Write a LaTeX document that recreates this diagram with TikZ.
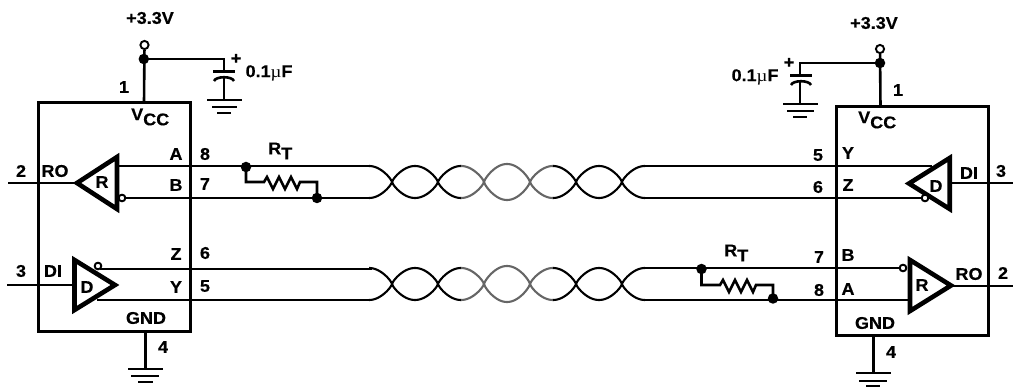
\documentclass[tikz,border=0pt]{standalone}
\usepackage{fontspec}
\setmainfont{Liberation Sans}[BoldFeatures={FakeStretch=1.06,FakeBold=0.3}]
\newfontfamily\musym{Liberation Serif}[FakeStretch=1.1]
\newcommand{\subdown}[1]{\raisebox{-0.3em}{#1}}
\newcommand{\strandy}[3]{#1-#2*#3*cos((\x-369)/46*180)*pow(abs(cos((\x-369)/46*180))+0.001,-0.25)}
\newcommand{\twistpair}[2]{%
  % #1 = mid y, #2 = amplitude sign of the strand
  \draw[twist] plot[domain=369:461,samples=70] (\x,{\strandy{#1}{#2}{16}});
  \draw[twistgrey] plot[domain=461:484,samples=24] (\x,{\strandy{#1}{#2}{16}});
  \draw[twistgrey] plot[domain=484:530,samples=45] (\x,{\strandy{#1}{#2}{18}});
  \draw[twistgrey] plot[domain=530:553,samples=24] (\x,{\strandy{#1}{#2}{16}});
  \draw[twist] plot[domain=553:645,samples=70] (\x,{\strandy{#1}{#2}{16}});
}
\tikzset{
  wire/.style={line width=2.6pt},
  boxline/.style={line width=3pt},
  twist/.style={line width=2.1pt,black},
  twistgrey/.style={line width=2.1pt,black!60},
  lbl/.style={inner sep=0pt,font=\fontsize{17}{17}\bfseries\selectfont,text=black},
  dot/.style={circle,fill=black,inner sep=0pt,minimum size=10.5pt},
  port/.style={circle,draw,line width=1.8pt,fill=white,inner sep=0pt,minimum size=6.5pt},
  vport/.style={circle,draw,line width=1.9pt,fill=white,inner sep=0pt,minimum size=8.2pt},
  tri/.style={line width=4.6pt,miter limit=10},
  pt/.style={inner sep=0pt,minimum size=0pt},
}
\begin{document}
\begin{tikzpicture}[x=1pt,y=-1pt]
\useasboundingbox (0,0) rectangle (1013,387);
% ---------- left transceiver
\node[draw,boxline,pt,minimum width=152pt,minimum height=229pt] (boxL) at (114.5,217.5) {};
\node[vport] (vccL) at (144.5,45) {};
\node[dot] (jL) at (143.8,59) {};
\coordinate (vccpinL) at (144,103);
\draw[wire] (vccL) -- (vccpinL);
\coordinate (capLa) at (224,71);
\coordinate (capLb) at (224,78);
\coordinate (gndcapL) at (224,100);
\draw[wire] (jL.center) -| (capLa);
\draw[wire] (213,71.5) -- (235,71.5);
\draw[wire] (214,81) .. controls (216,76) and (232,76) .. (234,81);
\draw[wire] (capLb) -- (gndcapL);
\draw[wire] (207,100) -- (242,100) (212,107) -- (237,107) (217,113) -- (231,113);
% wires left
\coordinate (wAL) at (372,166);
\coordinate (wBL) at (372,198);
\coordinate (wZL) at (372,269);
\coordinate (wYL) at (372,300);
\coordinate (wROL) at (8,183);
\coordinate (wDIL) at (7,285);
\coordinate (recAL) at (115,166);
\coordinate (drvYL) at (97,300);
\node[port] (bubRL) at (122,198) {};
\node[port] (bubDL) at (98,266) {};
\coordinate (wZLs) at (100,269);
\draw[wire] (recAL) -- (wAL);
\draw[wire] (bubRL) -- (wBL);
\draw[wire] (wZLs) -- (wZL);
\draw[wire] (drvYL) -- (wYL);
\draw[wire] (wROL) -- (76,183);
\draw[wire] (wDIL) -- (73,285);
\draw[tri] (117,157) -- (77,183) -- (117,209) -- cycle;
\draw[tri] (74.5,260) -- (115,285) -- (74.5,310) -- cycle;
\node[port] at (122,198) {};
\node[port] at (98,266) {};
% resistor left
\node[dot] (dRL1) at (246,167) {};
\node[dot] (dRL2) at (317,198) {};
\draw[wire,line join=miter] (dRL1.center) -- (246,182) -- (264,182) -- (267,177) -- (273,189) -- (279,177) -- (285,189) -- (291,177) -- (297,189) -- (300,182) -- (317,182) -- (dRL2.center);
% ground left
\coordinate (gndL) at (145.5,369);
\draw[wire] (145.5,332) -- (gndL);
\draw[wire] (128,369) -- (163,369) (131,376) -- (159,376) (138,382) -- (153,382);
% labels left
\node[lbl] (t1) at (150,18) {+3.3V};
\node[lbl] (t2) at (124,87) {1};
\node[lbl] (t3) at (236,59) {+};
\node[lbl] (t4) at (269,73) {0.1{\musym\mdseries µ}F};
\node[lbl,anchor=west] (t5) at (131,117) {V\subdown{CC}};
\node[lbl] (t6) at (176,154) {A};
\node[lbl] (t7) at (205,154) {8};
\node[lbl] (t8) at (176,185) {B};
\node[lbl] (t9) at (205,184) {7};
\node[lbl,anchor=west] (t10) at (268,151) {R\subdown{T}};
\node[lbl] (t11) at (21,171) {2};
\node[lbl] (t12) at (55,171) {RO};
\node[lbl] (t13) at (102,182) {R};
\node[lbl] (t14) at (21,271) {3};
\node[lbl] (t15) at (53,271) {DI};
\node[lbl] (t16) at (87,287) {D};
\node[lbl] (t17) at (176,254) {Z};
\node[lbl] (t18) at (205,253) {6};
\node[lbl] (t19) at (176,287) {Y};
\node[lbl] (t20) at (205,286) {5};
\node[lbl] (t21) at (146,318) {GND};
\node[lbl] (t22) at (163,347) {4};
% ---------- twisted pairs
\twistpair{182}{1}
\twistpair{182}{-1}
\twistpair{284}{1}
\twistpair{284}{-1}
% ---------- right transceiver
\node[draw,boxline,pt,minimum width=152pt,minimum height=229pt] (boxR) at (912,221.5) {};
\node[vport] (vccR) at (880,49) {};
\node[dot] (jR) at (880,63) {};
\coordinate (vccpinR) at (880.5,107);
\draw[wire] (vccR) -- (vccpinR);
\coordinate (capRa) at (800,75);
\coordinate (capRb) at (800,82);
\coordinate (gndcapR) at (800,104);
\draw[wire] (jR.center) -| (capRa);
\draw[wire] (790,75.5) -- (812,75.5);
\draw[wire] (791,85) .. controls (793,80) and (809,80) .. (811,85);
\draw[wire] (capRb) -- (gndcapR);
\draw[wire] (783,104) -- (818,104) (787,111) -- (814,111) (793,117) -- (807,117);
% wires right
\coordinate (wYR) at (643,166);
\coordinate (wZR) at (643,198);
\coordinate (wBR) at (643,268);
\coordinate (wAR) at (643,300);
\coordinate (wDIR) at (1013,183);
\coordinate (wROR) at (1013,286);
\coordinate (drvYR) at (932,166);
\coordinate (recAR) at (908,300);
\node[port] (bubDR) at (925,198) {};
\node[port] (bubRR) at (903,268) {};
\draw[wire] (wYR) -- (drvYR);
\draw[wire] (wZR) -- (bubDR);
\draw[wire] (wBR) -- (bubRR);
\draw[wire] (wAR) -- (recAR);
\draw[wire] (950,183) -- (wDIR);
\draw[wire] (950,286) -- (wROR);
\draw[tri] (949.7,158) -- (909,183.5) -- (949.7,209) -- cycle;
\draw[tri] (910,260) -- (951,285.5) -- (910,311) -- cycle;
\node[port] at (925,198) {};
\node[port] at (903,268) {};
% resistor right
\node[dot] (dRR1) at (701.5,269) {};
\node[dot] (dRR2) at (773,298.5) {};
\draw[wire,line join=miter] (dRR1.center) -- (701.5,285) -- (720,285) -- (723,280) -- (729,292) -- (735,280) -- (741,292) -- (747,280) -- (753,292) -- (756,285) -- (773,285) -- (dRR2.center);
% ground right
\coordinate (gndR) at (873.5,373);
\draw[wire] (873.5,336) -- (gndR);
\draw[wire] (856,373) -- (891,373) (859,381) -- (887,381) (866,386) -- (880,386);
% labels right
\node[lbl] (u1) at (874,23) {+3.3V};
\node[lbl] (u2) at (898,90) {1};
\node[lbl] (u3) at (789,63) {+};
\node[lbl] (u4) at (755,77) {0.1{\musym\mdseries µ}F};
\node[lbl,anchor=west] (u5) at (858,120) {V\subdown{CC}};
\node[lbl] (u6) at (848,153) {Y};
\node[lbl] (u7) at (818,155) {5};
\node[lbl] (u8) at (848,185) {Z};
\node[lbl] (u9) at (818,187) {6};
\node[lbl] (u10) at (936,186) {D};
\node[lbl] (u11) at (969,173) {DI};
\node[lbl] (u12) at (1001,171) {3};
\node[lbl,anchor=west] (u13) at (724,253) {R\subdown{T}};
\node[lbl] (u14) at (819,257) {7};
\node[lbl] (u15) at (819,290) {8};
\node[lbl] (u16) at (848,255) {B};
\node[lbl] (u17) at (848,289) {A};
\node[lbl] (u18) at (922,285) {R};
\node[lbl] (u19) at (969,274) {RO};
\node[lbl] (u20) at (1003,273) {2};
\node[lbl] (u21) at (875,323) {GND};
\node[lbl] (u22) at (891,352) {4};
\end{tikzpicture}
\end{document}
